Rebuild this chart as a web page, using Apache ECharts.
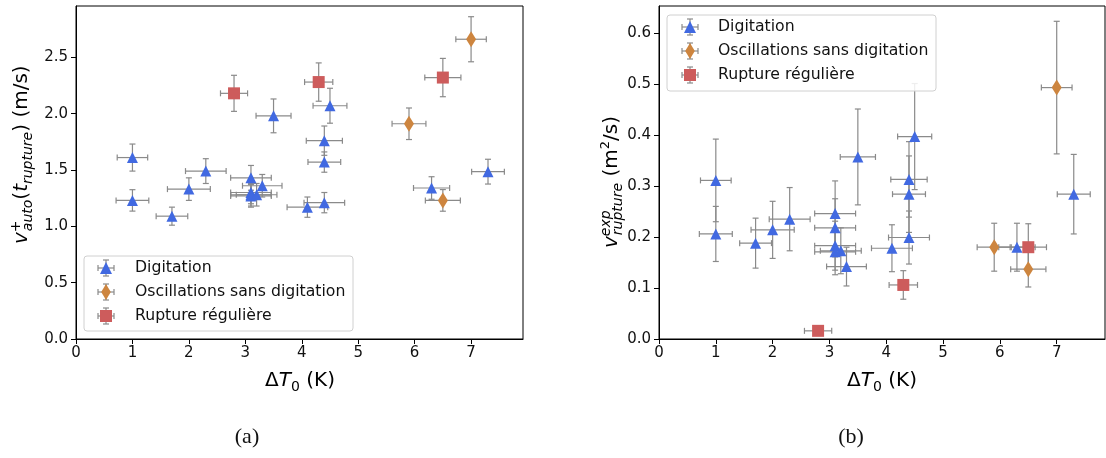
<!DOCTYPE html>
<html><head><meta charset="utf-8">
<script src="https://cdn.jsdelivr.net/npm/echarts@6/dist/echarts.min.js"></script>
<style>html,body{margin:0;padding:0;background:#fff}#c{width:1106px;height:458px}</style>
</head><body><div id="c"></div>
<script>
// ---------------- data ----------------
const xTicks = [0, 1, 2, 3, 4, 5, 6, 7];
const yTicksA = [0, 0.5, 1.0, 1.5, 2.0, 2.5];
const yTicksB = [0, 0.1, 0.2, 0.3, 0.4, 0.5, 0.6];
const seriesNames = ['Digitation', 'Oscillations sans digitation', 'Rupture régulière'];

// Digitation (blue triangles)
const digX    = [1.0, 1.0, 1.7, 2.0, 2.3, 3.1, 3.1, 3.1, 3.1, 3.2, 3.3, 3.5, 4.1, 4.4, 4.4, 4.4, 4.5, 6.3, 7.3];
const digXErr = [0.27, 0.29, 0.28, 0.38, 0.36, 0.36, 0.36, 0.36, 0.36, 0.36, 0.35, 0.31, 0.36, 0.32, 0.29, 0.36, 0.30, 0.32, 0.29];
const digVa   = [1.61, 1.23, 1.09, 1.33, 1.49, 1.43, 1.30, 1.28, 1.27, 1.28, 1.36, 1.98, 1.17, 1.76, 1.57, 1.21, 2.07, 1.34, 1.485];
const digVaErr= [0.12, 0.095, 0.08, 0.10, 0.11, 0.11, 0.10, 0.10, 0.10, 0.10, 0.10, 0.15, 0.09, 0.13, 0.09, 0.09, 0.155, 0.10, 0.11];
const digVr   = [0.311, 0.206, 0.188, 0.214, 0.235, 0.246, 0.218, 0.183, 0.171, 0.173, 0.142, 0.357, 0.178, 0.313, 0.284, 0.199, 0.397, 0.180, 0.284];
const digVrErr= [0.081, 0.054, 0.049, 0.056, 0.062, 0.064, 0.057, 0.048, 0.045, 0.045, 0.038, 0.094, 0.046, 0.074, 0.075, 0.052, 0.104, 0.047, 0.078];

// Oscillations sans digitation (orange diamonds)
const oscX    = [5.9, 6.5, 7.0];
const oscXErr = [0.30, 0.31, 0.27];
const oscVa   = [1.91, 1.23, 2.66];
const oscVaErr= [0.14, 0.096, 0.20];
const oscVr   = [0.180, 0.137, 0.493];
const oscVrErr= [0.047, 0.035, 0.130];

// Rupture régulière (red squares)
const rupX    = [2.8, 4.3, 6.5];
const rupXErr = [0.24, 0.25, 0.32];
const rupVa   = [2.18, 2.28, 2.32];
const rupVaErr= [0.16, 0.17, 0.17];
const rupVr   = [0.016, 0.106, 0.180];
const rupVrErr= [0.004, 0.028, 0.046];

// ---------------- chart ----------------
const FONT = 'DejaVu Sans';
const TXT = '#111';
const ERR = '#8a8a8a';
const chart = echarts.init(document.getElementById('c'), null, {renderer: 'canvas'});

const styles = [
  {color: '#4169e1', symbol: 'triangle', size: [11, 11], icon: 'path://M0,-5.5L5.5,5.5L-5.5,5.5Z'},
  {color: '#cd853f', symbol: 'diamond', size: [10, 16], icon: 'rect'},
  {color: '#cd5c5c', symbol: 'rect', size: [12, 12], icon: 'path://M0,0L11,0L11,11L0,11Z'}
];
const groups = [
  {x: digX, xe: digXErr, ya: digVa, yea: digVaErr, yb: digVr, yeb: digVrErr},
  {x: oscX, xe: oscXErr, ya: oscVa, yea: oscVaErr, yb: oscVr, yeb: oscVrErr},
  {x: rupX, xe: rupXErr, ya: rupVa, yea: rupVaErr, yb: rupVr, yeb: rupVrErr}
];

function errRender(params, api) {
  const x = api.value(0), y = api.value(1), ex = api.value(2), ey = api.value(3);
  const l = api.coord([x - ex, y]), r = api.coord([x + ex, y]);
  const t = api.coord([x, y + ey]), b = api.coord([x, y - ey]);
  const cap = 3;
  const st = {stroke: ERR, lineWidth: 1.2};
  const line = (x1, y1, x2, y2) => ({type: 'line', shape: {x1, y1, x2, y2}, style: st});
  return {type: 'group', children: [
    line(l[0], l[1], r[0], r[1]),
    line(l[0], l[1] - cap, l[0], l[1] + cap),
    line(r[0], r[1] - cap, r[0], r[1] + cap),
    line(t[0], t[1], b[0], b[1]),
    line(t[0] - cap, t[1], t[0] + cap, t[1]),
    line(b[0] - cap, b[1], b[0] + cap, b[1])
  ]};
}

const series = [];
[0, 1].forEach(pi => {
  groups.forEach((g, gi) => {
    const ys = pi === 0 ? g.ya : g.yb;
    const yes = pi === 0 ? g.yea : g.yeb;
    series.push({
      type: 'custom', name: 'err' + pi + gi, xAxisIndex: pi, yAxisIndex: pi,
      renderItem: errRender, encode: {x: 0, y: 1}, z: 1, silent: true, clip: false,
      data: g.x.map((x, i) => [x, ys[i], g.xe[i], yes[i]])
    });
  });
  groups.forEach((g, gi) => {
    const ys = pi === 0 ? g.ya : g.yb;
    series.push({
      type: 'scatter', name: seriesNames[gi], xAxisIndex: pi, yAxisIndex: pi,
      symbol: styles[gi].symbol, symbolSize: styles[gi].size,
      itemStyle: {color: styles[gi].color, opacity: 1}, z: 3,
      emphasis: {disabled: true},
      data: g.x.map((x, i) => [x, ys[i]])
    });
  });
});

function xAxis(gi, max) {
  return {gridIndex: gi, type: 'value', min: 0, max: max,
    axisLine: {lineStyle: {color: '#000', width: 1}},
    axisTick: {length: 5, customValues: xTicks, lineStyle: {color: '#000'}},
    axisLabel: {customValues: xTicks, fontSize: 15, fontFamily: FONT, color: TXT, margin: 7},
    splitLine: {show: false}};
}
function yAxis(gi, max, ticks) {
  return {gridIndex: gi, type: 'value', min: 0, max: max,
    axisLine: {show: true, lineStyle: {color: '#000', width: 1}},
    axisTick: {show: true, length: 5, customValues: ticks, lineStyle: {color: '#000'}},
    axisLabel: {customValues: ticks, fontSize: 15, fontFamily: FONT, color: TXT, margin: 8,
      formatter: v => Number(v).toFixed(1)},
    splitLine: {show: false}};
}

function legend(left, top, pad) {
  return {left: left, top: top, orient: 'vertical', padding: 0, itemWidth: 12, itemHeight: 16, itemGap: 8,
    selectedMode: false, z: 6,
    textStyle: {fontFamily: FONT, fontSize: 15.7, color: TXT, lineHeight: 16, padding: [0, 0, 0, pad]},
    data: seriesNames.map((n, i) => (i === 1
      ? {name: n, icon: styles[i].icon, itemStyle: {opacity: 0}}
      : {name: n, icon: styles[i].icon}))};
}

const rich = {
  m: {fontFamily: FONT, fontSize: 20, lineHeight: 26, color: TXT},
  i: {fontFamily: FONT, fontSize: 20, lineHeight: 26, fontStyle: 'italic', color: TXT},
  sb: {fontFamily: FONT, fontSize: 14, lineHeight: 14, fontStyle: 'italic', verticalAlign: 'bottom', color: TXT},
  sbu: {fontFamily: FONT, fontSize: 14, lineHeight: 14, verticalAlign: 'bottom', color: TXT},
  sp: {fontFamily: FONT, fontSize: 14, lineHeight: 14, verticalAlign: 'top', color: TXT, width: 1},
  spi: {fontFamily: FONT, fontSize: 14, lineHeight: 14, fontStyle: 'italic', verticalAlign: 'top', color: TXT, width: 1},
  su: {fontFamily: FONT, fontSize: 13, lineHeight: 14, verticalAlign: 'top', color: TXT}
};

function crosses(cx, cys) {
  const out = [];
  const st = {stroke: ERR, lineWidth: 1.2};
  cys.forEach(cy => {
    [[cx - 8, cy, cx + 8, cy], [cx - 8, cy - 3, cx - 8, cy + 3], [cx + 8, cy - 3, cx + 8, cy + 3],
     [cx, cy - 8, cx, cy + 8], [cx - 3, cy - 8, cx + 3, cy - 8], [cx - 3, cy + 8, cx + 3, cy + 8]]
      .forEach(s => out.push({type: 'line', z: 5, silent: true,
        shape: {x1: s[0], y1: s[1], x2: s[2], y2: s[3]}, style: st}));
  });
  return out;
}
function legendDiamond(cx, cy) {
  return {type: 'polygon', z: 7, silent: true,
    shape: {points: [[cx, cy - 8], [cx + 4.8, cy], [cx, cy + 8], [cx - 4.8, cy]]},
    style: {fill: styles[1].color}};
}

const graphic = [
  {type: 'rect', z: 4, silent: true, shape: {x: 84, y: 256, width: 269, height: 75, r: 3},
   style: {fill: 'rgba(255,255,255,0.85)', stroke: '#d0d0d0', lineWidth: 1}},
  {type: 'rect', z: 4, silent: true, shape: {x: 667, y: 15, width: 269, height: 76, r: 3},
   style: {fill: 'rgba(255,255,255,0.85)', stroke: '#d0d0d0', lineWidth: 1}},
  ...crosses(106, [268, 292, 316]),
  ...crosses(690, [27, 51, 75]),
  legendDiamond(106, 292),
  legendDiamond(690, 51),
  {type: 'text', x: 300, y: 381, z: 5, style: {text: '{m|Δ}{i|T}{sbu|0}{m| (K)}', rich: rich, align: 'center', verticalAlign: 'middle'}},
  {type: 'text', x: 882, y: 381, z: 5, style: {text: '{m|Δ}{i|T}{sbu|0}{m| (K)}', rich: rich, align: 'center', verticalAlign: 'middle'}},
  {type: 'text', x: 22, y: 244, rotation: Math.PI / 2, z: 5,
   style: {text: '{i|v}{sp|+}{sb|auto}{m|(}{i|t}{sb|rupture}{m|) (m/s)}', rich: rich, align: 'left', verticalAlign: 'middle'}},
  {type: 'text', x: 612, y: 248, rotation: Math.PI / 2, z: 5,
   style: {text: '{i|v}{spi|exp}{sb|rupture}{m| (m}{su|2}{m|/s)}', rich: rich, align: 'left', verticalAlign: 'middle'}},
  {type: 'text', x: 247, y: 437, z: 5, style: {text: '(a)', font: '22px "Liberation Serif"', fill: TXT, align: 'center', verticalAlign: 'middle'}},
  {type: 'text', x: 851, y: 437, z: 5, style: {text: '(b)', font: '22px "Liberation Serif"', fill: TXT, align: 'center', verticalAlign: 'middle'}}
];

chart.setOption({
  animation: false,
  backgroundColor: '#fff',
  grid: [
    {left: 76, top: 6, width: 447, height: 333, show: true, borderColor: '#000', borderWidth: 1, backgroundColor: 'transparent'},
    {left: 659, top: 6, width: 446, height: 333, show: true, borderColor: '#000', borderWidth: 1, backgroundColor: 'transparent'}
  ],
  xAxis: [xAxis(0, 7.92), xAxis(1, 7.85)],
  yAxis: [yAxis(0, 2.955, yTicksA), yAxis(1, 0.653, yTicksB)],
  legend: [legend(100, 260, 18), legend(684, 19, 17)],
  series: series,
  graphic: graphic
});
</script></body></html>
